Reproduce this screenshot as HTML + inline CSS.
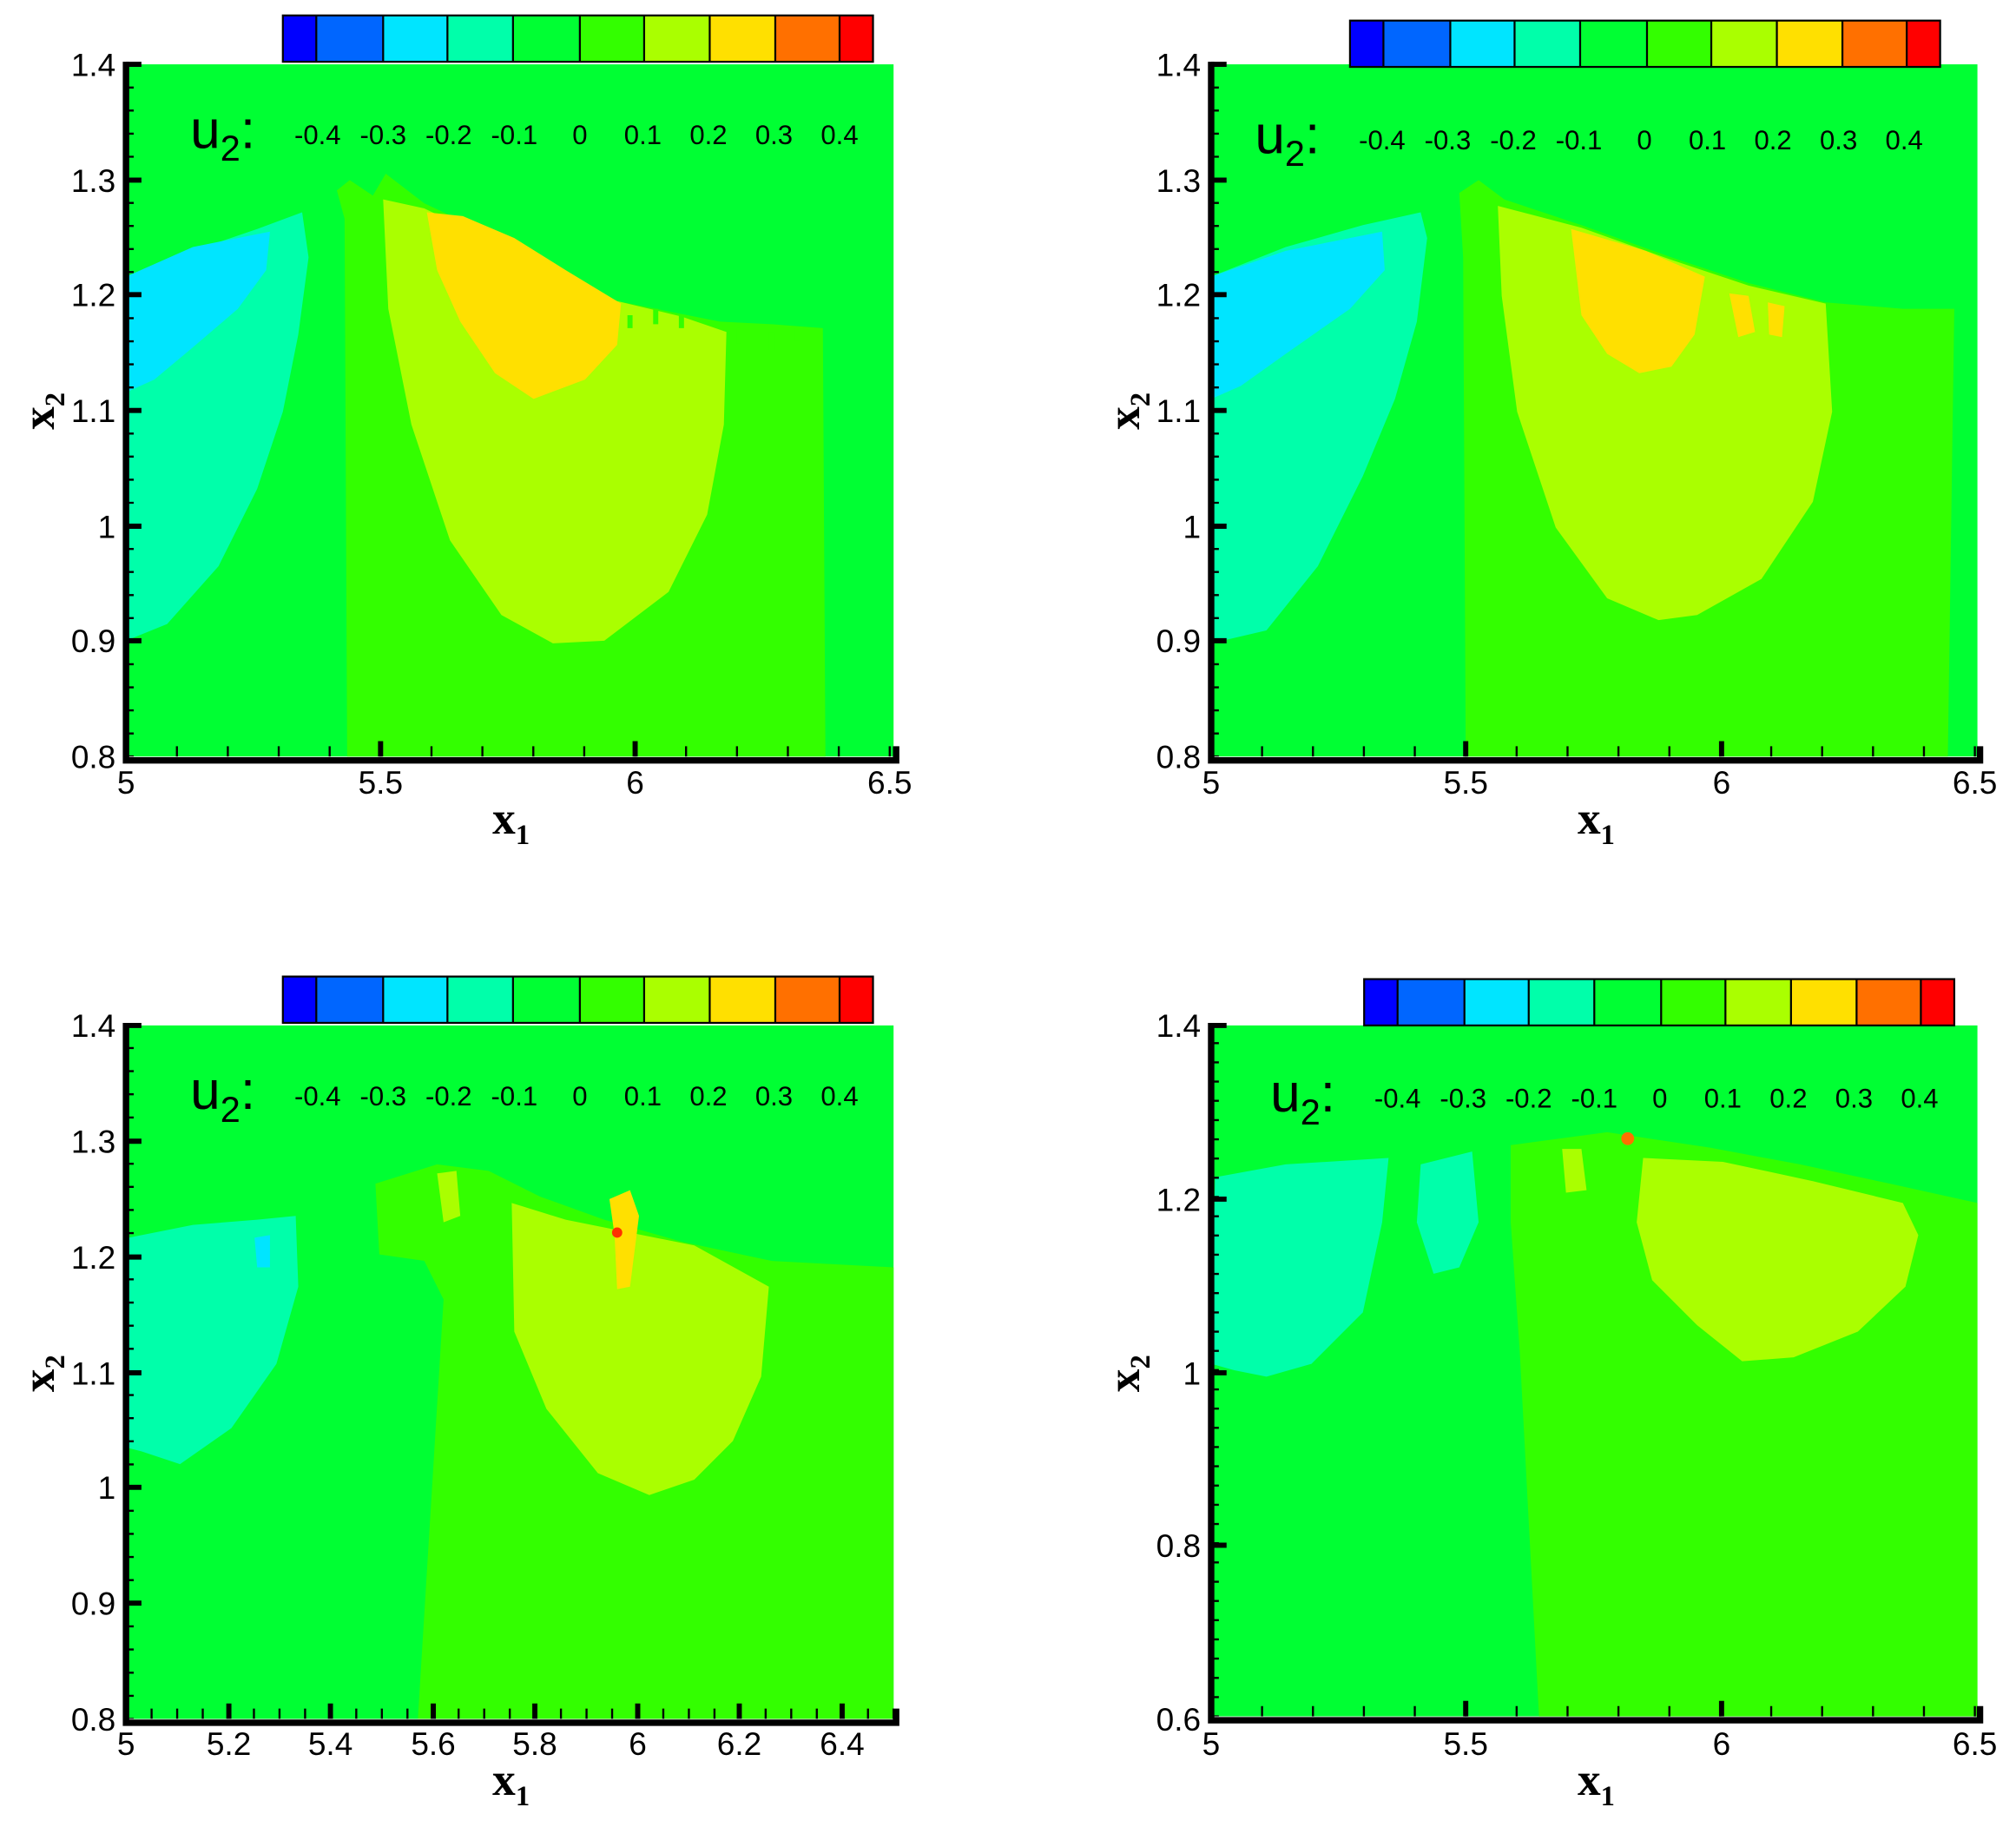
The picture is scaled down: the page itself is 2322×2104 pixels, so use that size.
<!DOCTYPE html>
<html><head><meta charset="utf-8"><style>
html,body{margin:0;padding:0;background:#fff;}
svg{display:block;}
text{font-family:"Liberation Sans",sans-serif;fill:#000;}
.t{font-size:25px;}
.cb{font-size:21px;text-anchor:middle;}
.u{font-size:42px;}
.ax{font-family:"Liberation Serif",serif;font-weight:bold;font-size:36px;}
</style></head><body>
<svg width="2322" height="2104" viewBox="0 0 1568 1420" preserveAspectRatio="none" xmlns="http://www.w3.org/2000/svg">
<defs>
<g id="cbar">
<rect x="0" y="0" width="26" height="36" fill="#0000ff"/>
<rect x="26" y="0" width="52" height="36" fill="#0066ff"/>
<rect x="78" y="0" width="50" height="36" fill="#00e5ff"/>
<rect x="128" y="0" width="51" height="36" fill="#00ffaa"/>
<rect x="179" y="0" width="52" height="36" fill="#00ff33"/>
<rect x="231" y="0" width="50" height="36" fill="#33ff00"/>
<rect x="281" y="0" width="51" height="36" fill="#aaff00"/>
<rect x="332" y="0" width="51" height="36" fill="#ffe000"/>
<rect x="383" y="0" width="50" height="36" fill="#ff7000"/>
<rect x="433" y="0" width="26" height="36" fill="#ff0000"/>
<g stroke="#000" stroke-width="1.5" fill="none">
<rect x="0" y="0" width="459" height="36"/>
<path d="M26 0V36M78 0V36M128 0V36M179 0V36M231 0V36M281 0V36M332 0V36M383 0V36M433 0V36"/>
</g>
</g>
<g id="cblab">
<text class="u" x="0" y="12">u<tspan font-size="28" dy="10">2</tspan><tspan dy="-10">:</tspan></text>
<text class="cb" x="99" y="9">-0.4</text><text class="cb" x="150" y="9">-0.3</text><text class="cb" x="201" y="9">-0.2</text><text class="cb" x="252" y="9">-0.1</text><text class="cb" x="303" y="9">0</text><text class="cb" x="352" y="9">0.1</text><text class="cb" x="403" y="9">0.2</text><text class="cb" x="454" y="9">0.3</text><text class="cb" x="505" y="9">0.4</text>
</g>
</defs>

<!-- ===== Panel TL ===== -->
<rect x="98" y="50" width="597" height="538" fill="#00ff33"/>
<polygon fill="#00ffaa" points="98,215 150,195 200,178 235,165 240,200 232,260 220,320 200,380 170,440 130,485 98,498"/>
<polygon fill="#00e5ff" points="98,215 150,192 210,180 207,210 185,240 150,270 120,295 98,305"/>
<polygon fill="#33ff00" points="262,148 272,140 290,152 300,135 330,158 420,200 480,234 520,242 560,250 600,252 640,255 642,588 270,588 268,170"/>
<polygon fill="#aaff00" points="298,155 330,162 420,205 480,234 530,246 565,258 563,330 550,400 520,460 470,498 430,500 390,478 350,420 320,330 302,240"/>
<polygon fill="#ffe000" points="332,165 360,168 400,185 440,210 483,236 480,268 455,295 415,310 385,290 358,250 340,210"/>
<g stroke="#33ff00" stroke-width="4"><path d="M490 245v10M510 240v12M530 245v10M575 255v12M600 258v14M620 255v10"/></g>
<use href="#cbar" x="220" y="12"/>
<use href="#cblab" x="148" y="103"/>
<g stroke="#000" fill="none">
<path d="M98 48V591H697V580" stroke-width="5"/>
<path d="M98 584H695" stroke-width="8" stroke-dasharray="1.6 38" stroke-dashoffset="0.8"/>
<path d="M101 588V48" stroke-width="6" stroke-dasharray="1.6 16.33" stroke-dashoffset="0.8"/>
<path d="M296 588v-12M494 588v-12M98 50h12M98 140h12M98 229h12M98 319h12M98 409h12M98 498h12" stroke-width="4"/>
</g>
<g class="t" text-anchor="middle"><text x="98" y="617">5</text><text x="296" y="617">5.5</text><text x="494" y="617">6</text><text x="692" y="617">6.5</text></g>
<g class="t" text-anchor="end"><text x="90" y="59">1.4</text><text x="90" y="149">1.3</text><text x="90" y="238">1.2</text><text x="90" y="328">1.1</text><text x="90" y="418">1</text><text x="90" y="507">0.9</text><text x="90" y="597">0.8</text></g>
<text class="ax" x="383" y="648">x<tspan font-size="22" dy="8">1</tspan></text>
<text class="ax" transform="translate(42,334) rotate(-90)">x<tspan font-size="22" dy="8">2</tspan></text>

<!-- ===== Panel TR ===== -->
<rect x="942" y="50" width="596" height="538" fill="#00ff33"/>
<polygon fill="#00ffaa" points="942,215 1000,192 1060,175 1105,165 1110,185 1102,250 1085,310 1060,370 1025,440 985,490 942,500"/>
<polygon fill="#00e5ff" points="942,215 1000,195 1075,180 1077,210 1050,240 1000,275 965,300 942,310"/>
<polygon fill="#33ff00" points="1135,150 1150,140 1170,155 1230,175 1300,200 1360,220 1420,235 1480,240 1520,240 1515,588 1140,588 1138,200"/>
<polygon fill="#aaff00" points="1165,160 1230,177 1300,202 1360,222 1420,236 1425,320 1410,390 1370,450 1320,478 1290,482 1250,465 1210,410 1180,320 1168,230"/>
<polygon fill="#ffe000" points="1222,178 1280,195 1326,215 1318,260 1300,285 1275,290 1250,275 1230,245"/>
<polygon fill="#ffe000" points="1345,228 1360,230 1365,258 1352,262"/>
<polygon fill="#ffe000" points="1375,235 1388,238 1386,262 1376,260"/>
<use href="#cbar" x="1050" y="16"/>
<use href="#cblab" x="976" y="107"/>
<g stroke="#000" fill="none">
<path d="M942 48V591H1540V580" stroke-width="5"/>
<path d="M942 584H1538" stroke-width="8" stroke-dasharray="1.6 38" stroke-dashoffset="0.8"/>
<path d="M945 588V48" stroke-width="6" stroke-dasharray="1.6 16.33" stroke-dashoffset="0.8"/>
<path d="M1140 588v-12M1339 588v-12M942 50h12M942 140h12M942 229h12M942 319h12M942 409h12M942 498h12" stroke-width="4"/>
</g>
<g class="t" text-anchor="middle"><text x="942" y="617">5</text><text x="1140" y="617">5.5</text><text x="1339" y="617">6</text><text x="1536" y="617">6.5</text></g>
<g class="t" text-anchor="end"><text x="934" y="59">1.4</text><text x="934" y="149">1.3</text><text x="934" y="238">1.2</text><text x="934" y="328">1.1</text><text x="934" y="418">1</text><text x="934" y="507">0.9</text><text x="934" y="597">0.8</text></g>
<text class="ax" x="1227" y="648">x<tspan font-size="22" dy="8">1</tspan></text>
<text class="ax" transform="translate(886,334) rotate(-90)">x<tspan font-size="22" dy="8">2</tspan></text>

<!-- ===== Panel BL ===== -->
<rect x="98" y="797" width="597" height="539" fill="#00ff33"/>
<polygon fill="#00ffaa" points="100,962 150,952 200,948 230,945 232,1000 215,1060 180,1110 140,1138 110,1128 98,1125"/>
<polygon fill="#00e5ff" points="198,962 210,960 210,985 200,985"/>
<polygon fill="#33ff00" points="292,920 340,905 380,910 420,930 470,948 530,965 600,980 695,985 695,1336 325,1336 345,1010 330,980 295,975"/>
<polygon fill="#aaff00" points="398,935 440,948 490,958 540,968 598,1000 592,1070 570,1120 540,1150 505,1162 465,1145 425,1095 400,1035"/>
<polygon fill="#aaff00" points="340,912 355,910 358,945 345,950"/>
<polygon fill="#ffe000" points="474,932 490,925 497,945 490,1000 480,1002 478,960"/>
<circle cx="480" cy="958" r="4" fill="#ff3000"/>
<use href="#cbar" x="220" y="759"/>
<use href="#cblab" x="148" y="850"/>
<g stroke="#000" fill="none">
<path d="M98 795V1339H697V1328" stroke-width="5"/>
<path d="M98 1332H695" stroke-width="8" stroke-dasharray="1.6 18.3" stroke-dashoffset="0.8"/>
<path d="M101 1336V795" stroke-width="6" stroke-dasharray="1.6 16.38" stroke-dashoffset="0.8"/>
<path d="M178 1336v-12M257 1336v-12M337 1336v-12M416 1336v-12M496 1336v-12M575 1336v-12M655 1336v-12M98 797h12M98 887h12M98 977h12M98 1067h12M98 1156h12M98 1246h12" stroke-width="4"/>
</g>
<g class="t" text-anchor="middle"><text x="98" y="1364">5</text><text x="178" y="1364">5.2</text><text x="257" y="1364">5.4</text><text x="337" y="1364">5.6</text><text x="416" y="1364">5.8</text><text x="496" y="1364">6</text><text x="575" y="1364">6.2</text><text x="655" y="1364">6.4</text></g>
<g class="t" text-anchor="end"><text x="90" y="806">1.4</text><text x="90" y="896">1.3</text><text x="90" y="986">1.2</text><text x="90" y="1076">1.1</text><text x="90" y="1165">1</text><text x="90" y="1255">0.9</text><text x="90" y="1345">0.8</text></g>
<text class="ax" x="383" y="1395">x<tspan font-size="22" dy="8">1</tspan></text>
<text class="ax" transform="translate(42,1082) rotate(-90)">x<tspan font-size="22" dy="8">2</tspan></text>

<!-- ===== Panel BR ===== -->
<rect x="942" y="797" width="596" height="537" fill="#00ff33"/>
<polygon fill="#00ffaa" points="945,915 1000,905 1080,900 1075,950 1060,1020 1020,1060 985,1070 960,1065 942,1060"/>
<polygon fill="#00ffaa" points="1105,905 1145,895 1150,950 1135,985 1115,990 1102,950"/>
<polygon fill="#33ff00" points="1175,890 1250,880 1330,892 1400,905 1470,920 1538,935 1538,1334 1197,1334 1182,1050 1175,950"/>
<polygon fill="#aaff00" points="1278,900 1340,903 1410,918 1480,935 1492,960 1482,1000 1445,1035 1395,1055 1355,1058 1320,1030 1285,995 1273,950"/>
<polygon fill="#aaff00" points="1215,893 1230,893 1234,925 1218,927"/>
<circle cx="1266" cy="885" r="5" fill="#ff7000"/>
<use href="#cbar" x="1061" y="761"/>
<use href="#cblab" x="988" y="852"/>
<g stroke="#000" fill="none">
<path d="M942 795V1337H1540V1326" stroke-width="5"/>
<path d="M942 1330H1538" stroke-width="8" stroke-dasharray="1.6 38" stroke-dashoffset="0.8"/>
<path d="M945 1334V795" stroke-width="6" stroke-dasharray="1.6 13.35" stroke-dashoffset="0.8"/>
<path d="M1140 1334v-12M1339 1334v-12M942 797h12M942 932h12M942 1067h12M942 1201h12" stroke-width="4"/>
</g>
<g class="t" text-anchor="middle"><text x="942" y="1364">5</text><text x="1140" y="1364">5.5</text><text x="1339" y="1364">6</text><text x="1536" y="1364">6.5</text></g>
<g class="t" text-anchor="end"><text x="934" y="806">1.4</text><text x="934" y="941">1.2</text><text x="934" y="1076">1</text><text x="934" y="1210">0.8</text><text x="934" y="1345">0.6</text></g>
<text class="ax" x="1227" y="1395">x<tspan font-size="22" dy="8">1</tspan></text>
<text class="ax" transform="translate(886,1082) rotate(-90)">x<tspan font-size="22" dy="8">2</tspan></text>
</svg>
</body></html>
